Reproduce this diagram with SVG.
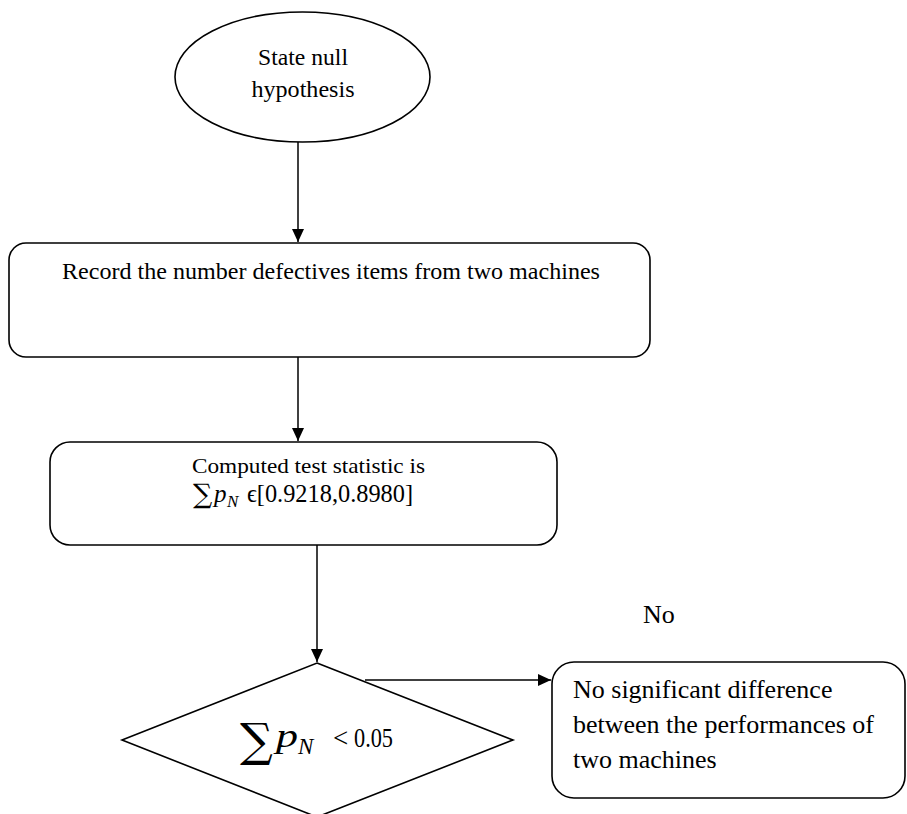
<svg xmlns="http://www.w3.org/2000/svg" width="907" height="814" viewBox="0 0 907 814">
<style>
.shape{fill:#fff;stroke:#000;stroke-width:1.6}
.edge{fill:none;stroke:#000;stroke-width:1.5}
.pal{font-family:"Liberation Serif","DejaVu Serif",serif;font-size:23px;fill:#000}
.tnr{font-family:"Liberation Serif",serif;font-size:26px;fill:#000}
.math{font-family:"Liberation Serif","DejaVu Serif",serif;fill:#000}
.sym{font-family:"DejaVu Serif",serif;fill:#000}
.it{font-style:italic}
</style>
<defs>
<marker id="arr" markerUnits="userSpaceOnUse" markerWidth="14" markerHeight="14" refX="13" refY="6" orient="auto">
<path d="M0,0 L13,6 L0,12 z" fill="#000"/>
</marker>
</defs>
<rect width="907" height="814" fill="#fff"/>
<g id="connectors">
<line class="edge" x1="298" y1="142" x2="298" y2="242" marker-end="url(#arr)"/>
<line class="edge" x1="298" y1="357" x2="298" y2="441" marker-end="url(#arr)"/>
<line class="edge" x1="317" y1="545" x2="317" y2="662" marker-end="url(#arr)"/>
<line class="edge" x1="365" y1="680" x2="551" y2="680" marker-end="url(#arr)"/>
</g>
<g id="start">
<ellipse class="shape" cx="302.5" cy="77" rx="127.5" ry="65"/>
<text class="pal" x="303" y="65" text-anchor="middle" textLength="90" lengthAdjust="spacingAndGlyphs">State null</text>
<text class="pal" x="303" y="97" text-anchor="middle" textLength="103" lengthAdjust="spacingAndGlyphs">hypothesis</text>
</g>
<g id="record">
<rect class="shape" x="9" y="243" width="641" height="114" rx="17"/>
<text class="pal" x="62" y="279" textLength="538" lengthAdjust="spacingAndGlyphs">Record the number defectives items from two machines</text>
</g>
<g id="compute">
<rect class="shape" x="50" y="442" width="507" height="103" rx="20"/>
<text class="tnr" x="192" y="473" style="font-size:22px" textLength="233" lengthAdjust="spacingAndGlyphs">Computed test statistic is</text>
<text class="sym" x="193" y="503" style="font-size:27px">∑</text>
<text class="math it" x="214" y="502" style="font-size:25px">p</text>
<text class="math it" x="227" y="507" style="font-size:17px">N</text>
<text class="math" x="247" y="502" style="font-size:25px" textLength="166" lengthAdjust="spacingAndGlyphs">ϵ[0.9218,0.8980]</text>
</g>
<g id="decision">
<polygon class="shape" points="317,663 513,740 317,817 122,740"/>
<text class="sym" x="240" y="756" style="font-size:46px">∑</text>
<text class="math it" x="276" y="747" style="font-size:34px" textLength="22" lengthAdjust="spacingAndGlyphs">p</text>
<text class="math it" x="298" y="754" style="font-size:23px">N</text>
<text class="math" x="333" y="747" style="font-size:27px">&lt;</text>
<text class="math" x="354" y="747" style="font-size:27px" textLength="39" lengthAdjust="spacingAndGlyphs">0.05</text>
</g>
<g id="label-no">
<text class="tnr" x="643" y="623">No</text>
</g>
<g id="result">
<rect class="shape" x="552" y="662" width="353" height="136" rx="22"/>
<text class="tnr" x="573" y="698">No significant difference</text>
<text class="tnr" x="573" y="733">between the performances of</text>
<text class="tnr" x="573" y="768">two machines</text>
</g>
</svg>
